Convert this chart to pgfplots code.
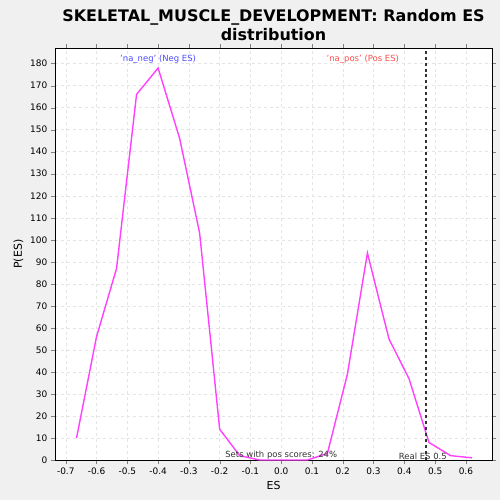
\documentclass[border=0pt]{standalone}
\usepackage{pgfplots}
\pgfplotsset{compat=1.18}
\usepackage{fontspec}
\setmainfont{DejaVu Sans}
\begin{document}
\begin{tikzpicture}
\useasboundingbox (-1.94cm,-1.41cm) rectangle (15.70cm,16.23cm);
\fill[gray!12] (-1.94cm,-1.41cm) rectangle (15.70cm,16.23cm);
\begin{axis}[
 width=15.42cm, height=14.53cm, scale only axis,
 xmin=-0.735, xmax=0.685, ymin=0, ymax=187,
 xtick={-0.7,-0.6,-0.5,-0.4,-0.3,-0.2,-0.1,0,0.1,0.2,0.3,0.4,0.5,0.6},
 xticklabels={-0.7,-0.6,-0.5,-0.4,-0.3,-0.2,-0.1,0.0,0.1,0.2,0.3,0.4,0.5,0.6},
 ytick={0,10,...,180},
 tick label style={font=\fontsize{9}{10}\selectfont},
 /pgf/number format/assume math mode=true,
 grid=major, grid style={dashed,gray!20},
 axis background/.style={fill=white},
 xlabel={ES}, ylabel={P(ES)},
 label style={font=\fontsize{11}{12}\selectfont},
 title={\bfseries SKELETAL\_MUSCLE\_DEVELOPMENT: Random ES\\\bfseries distribution},
 title style={align=center,font=\fontsize{16}{19}\selectfont,yshift=-2pt},
 tick align=outside,
]
\addplot[color={rgb,255:red,255;green,64;blue,255},line width=1.4pt] coordinates {
(-0.665,10)(-0.6,56)(-0.535,87)(-0.47,166)(-0.4,178)(-0.33,146)(-0.265,103)(-0.2,14)(-0.135,2)(-0.07,0)(0,0)(0.085,0)(0.15,3)(0.215,39)(0.28,94)(0.35,55)(0.415,37)(0.48,8)(0.55,2)(0.62,1)};
\addplot[black!80,dashed,line width=1.5pt] coordinates {(0.47,0)(0.47,187)};
\node[blue!70,font=\fontsize{8.5}{9}\selectfont] at (axis cs:-0.4,182) {'na\_neg' (Neg ES)};
\node[red!70,font=\fontsize{8.5}{9}\selectfont] at (axis cs:0.265,182) {'na\_pos' (Pos ES)};
\node[gray!40!black,font=\fontsize{8.5}{9}\selectfont] at (axis cs:0,2.3) {Sets with pos scores: 24\%};
\node[gray!40!black,font=\fontsize{8.5}{9}\selectfont] at (axis cs:0.46,1.5) {Real ES 0.5};
\end{axis}
\end{tikzpicture}
\end{document}
